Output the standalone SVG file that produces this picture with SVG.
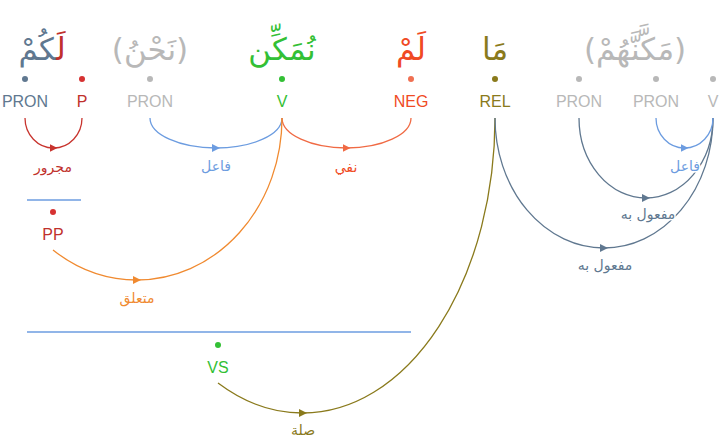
<svg xmlns="http://www.w3.org/2000/svg" width="720" height="438" viewBox="0 0 720 438">
<style>
.w{font-family:"DejaVu Sans",sans-serif;font-size:31px;text-anchor:middle}
.t{font-family:"Liberation Sans",Arial,sans-serif;font-size:16px;text-anchor:middle}
.a{font-family:"DejaVu Sans",sans-serif;font-size:14px;text-anchor:middle;stroke:#fff;stroke-width:3px;paint-order:stroke;stroke-linejoin:round}
.c{fill:none;stroke-width:1.3}
.slate{fill:#607890}.red{fill:#c0302c}.gray{fill:#b8b8b8}.green{fill:#33c035}.neg{fill:#f04a24}.olive{fill:#8a7a1c}.blue{fill:#6c9ce0}.orange{fill:#f08a30}
</style>
<defs>
<marker id="m-red" viewBox="0 0 8 8" refX="4" refY="4" markerWidth="8" markerHeight="8" markerUnits="userSpaceOnUse" orient="auto"><path d="M0,0 L8,4 L0,8 z" fill="#c8342e"/></marker>
<marker id="m-blue" viewBox="0 0 8 8" refX="4" refY="4" markerWidth="8" markerHeight="8" markerUnits="userSpaceOnUse" orient="auto"><path d="M0,0 L8,4 L0,8 z" fill="#6c9ce0"/></marker>
<marker id="m-neg" viewBox="0 0 8 8" refX="4" refY="4" markerWidth="8" markerHeight="8" markerUnits="userSpaceOnUse" orient="auto"><path d="M0,0 L8,4 L0,8 z" fill="#f06a44"/></marker>
<marker id="m-orange" viewBox="0 0 8 8" refX="4" refY="4" markerWidth="8" markerHeight="8" markerUnits="userSpaceOnUse" orient="auto"><path d="M0,0 L8,4 L0,8 z" fill="#f08a30"/></marker>
<marker id="m-olive" viewBox="0 0 8 8" refX="4" refY="4" markerWidth="8" markerHeight="8" markerUnits="userSpaceOnUse" orient="auto"><path d="M0,0 L8,4 L0,8 z" fill="#8a7a1c"/></marker>
<marker id="m-slate" viewBox="0 0 8 8" refX="4" refY="4" markerWidth="8" markerHeight="8" markerUnits="userSpaceOnUse" orient="auto"><path d="M0,0 L8,4 L0,8 z" fill="#607890"/></marker>
</defs>
<rect width="720" height="438" fill="#fff"/>

<g id="words">
<text class="w" x="42" y="60" direction="rtl"><tspan class="red">لَ</tspan><tspan class="slate">كُمْ</tspan></text>
<text class="w gray" x="150" y="60" direction="rtl">(نَحْنُ)</text>
<text class="w green" x="282" y="60" direction="rtl">نُمَكِّن</text>
<text class="w neg" x="411" y="60" direction="rtl">لَمْ</text>
<text class="w olive" x="495" y="60" direction="rtl">مَا</text>
<text class="w gray" x="635" y="60" direction="rtl">(مَكَّنَّهُمْ)</text>
</g>

<g id="connectors">
<path class="c" stroke="#c8342e" marker-mid="url(#m-red)" d="M25,118 A28.5,30 0 0 0 53.5,148 A28.5,30 0 0 0 82,118"/>
<path class="c" stroke="#6c9ce0" marker-mid="url(#m-blue)" d="M150,118 A66,30 0 0 0 216,148 A66,30 0 0 0 282,118"/>
<path class="c" stroke="#f06a44" marker-mid="url(#m-neg)" d="M282,118 A64.5,30 0 0 0 346.5,148 A64.5,30 0 0 0 411,118"/>
<path class="c" stroke="#f08a30" marker-mid="url(#m-orange)" d="M53,250 A145,162 0 0 0 137,280 A145,162 0 0 0 282,118"/>
<path class="c" stroke="#8a7a1c" marker-mid="url(#m-olive)" d="M218,383 A192,295 0 0 0 303,413 A192,295 0 0 0 495,118"/>
<path class="c" stroke="#607890" marker-mid="url(#m-slate)" d="M495,118 A109,130 0 0 0 604,248 A109,130 0 0 0 713,118"/>
<path class="c" stroke="#607890" marker-mid="url(#m-slate)" d="M579,118 A67,80 0 0 0 646,198 A67,80 0 0 0 713,118"/>
<path class="c" stroke="#6c9ce0" marker-mid="url(#m-blue)" d="M656,118 A28.5,30 0 0 0 684.5,148 A28.5,30 0 0 0 713,118"/>
<text class="a red" x="53" y="172">مجرور</text>
<text class="a blue" x="216" y="171">فاعل</text>
<text class="a neg" x="346" y="172">نفي</text>
<text class="a orange" x="137" y="303">متعلق</text>
<text class="a olive" x="303" y="435">صلة</text>
<text class="a slate" x="648" y="219">مفعول به</text>
<text class="a slate" x="605" y="270">مفعول به</text>
<text class="a blue" x="685" y="171">فاعل</text>
</g>

<g id="n-pron1"><circle cx="25" cy="79" r="3" class="slate"/><text class="t slate" x="25" y="107">PRON</text></g>
<g id="n-p"><circle cx="82" cy="79" r="3" fill="#d63232"/><text class="t red" x="82" y="107">P</text></g>
<g id="n-pron2"><circle cx="150" cy="79" r="3" class="gray"/><text class="t gray" x="150" y="107">PRON</text></g>
<g id="n-v"><circle cx="282" cy="79" r="3" class="green"/><text class="t green" x="282" y="107">V</text></g>
<g id="n-neg"><circle cx="411" cy="79" r="3" fill="#f07052"/><text class="t neg" x="411" y="107">NEG</text></g>
<g id="n-rel"><circle cx="495" cy="79" r="3" class="olive"/><text class="t olive" x="495" y="107">REL</text></g>
<g id="n-pron3"><circle cx="579" cy="79" r="3" class="gray"/><text class="t gray" x="579" y="107">PRON</text></g>
<g id="n-pron4"><circle cx="656" cy="79" r="3" class="gray"/><text class="t gray" x="656" y="107">PRON</text></g>
<g id="n-v2"><circle cx="713" cy="79" r="3" class="gray"/><text class="t gray" x="713" y="107">V</text></g>
<g id="n-pp"><line x1="27" y1="200" x2="81" y2="200" stroke="#6c9ce0" stroke-width="1.3"/><circle cx="53" cy="212" r="3" fill="#d63232"/><text class="t red" x="53" y="240">PP</text></g>
<g id="n-vs"><line x1="27" y1="332" x2="411" y2="332" stroke="#6c9ce0" stroke-width="1.3"/><circle cx="218" cy="345" r="3" class="green"/><text class="t green" x="218" y="373">VS</text></g>
</svg>
